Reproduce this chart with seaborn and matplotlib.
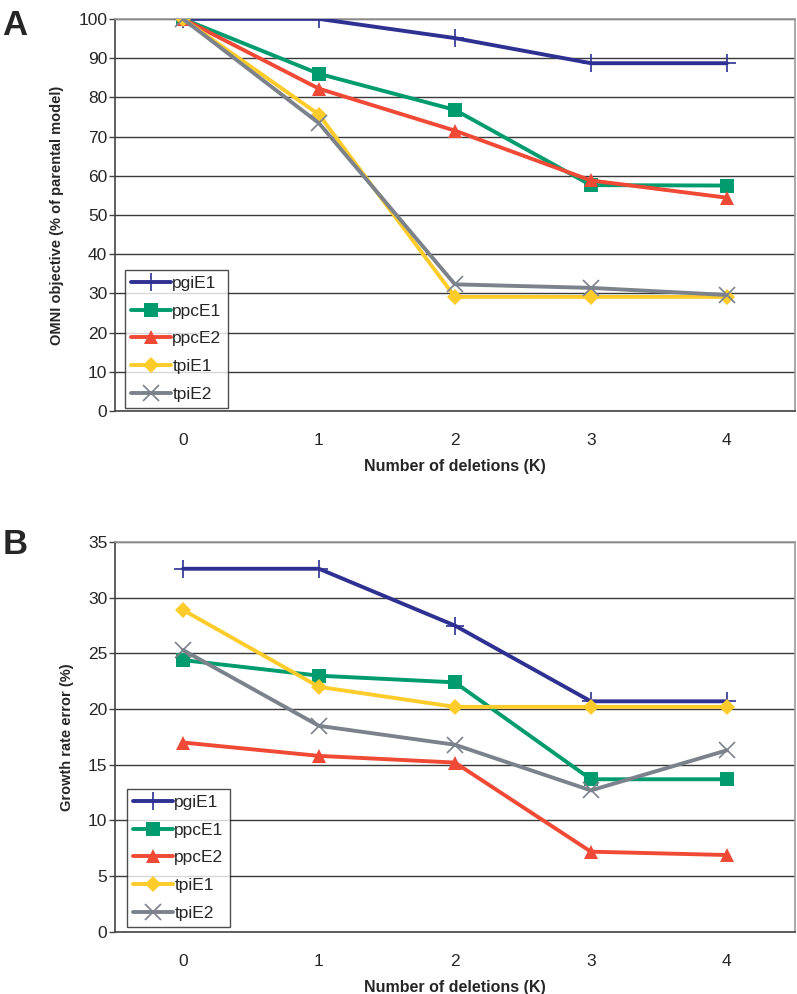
import numpy as np
import pandas as pd
import matplotlib
matplotlib.use('Agg')
import matplotlib.pyplot as plt
import seaborn as sns

# data
deletions = [0, 1, 2, 3, 4]
series_names = ['pgiE1', 'ppcE1', 'ppcE2', 'tpiE1', 'tpiE2']

# panel A: OMNI objective (% of parental model)
omni_pgiE1 = [100, 100, 95.1, 88.7, 88.7]
omni_ppcE1 = [100, 86.0, 76.8, 57.6, 57.5]
omni_ppcE2 = [100, 82.2, 71.5, 58.8, 54.4]
omni_tpiE1 = [100, 75.6, 29.1, 29.1, 29.1]
omni_tpiE2 = [100, 73.4, 32.3, 31.4, 29.6]

# panel B: growth rate error (%)
err_pgiE1 = [32.6, 32.6, 27.5, 20.7, 20.7]
err_ppcE1 = [24.4, 23.0, 22.4, 13.7, 13.7]
err_ppcE2 = [17.0, 15.8, 15.2, 7.2, 6.9]
err_tpiE1 = [28.9, 22.0, 20.2, 20.2, 20.2]
err_tpiE2 = [25.3, 18.5, 16.8, 12.7, 16.3]

colors = {'pgiE1': '#2e3192', 'ppcE1': '#009b6e', 'ppcE2': '#f04a36',
          'tpiE1': '#fdcb2a', 'tpiE2': '#7c828c'}
markers = {'pgiE1': '+', 'ppcE1': 's', 'ppcE2': '^', 'tpiE1': 'D', 'tpiE2': 'x'}
msizes = {'pgiE1': 13, 'ppcE1': 9.5, 'ppcE2': 10.5, 'tpiE1': 8, 'tpiE2': 11}

df_a = pd.DataFrame({'K': deletions * 5,
                     'value': omni_pgiE1 + omni_ppcE1 + omni_ppcE2 + omni_tpiE1 + omni_tpiE2,
                     'series': np.repeat(series_names, 5)})
df_b = pd.DataFrame({'K': deletions * 5,
                     'value': err_pgiE1 + err_ppcE1 + err_ppcE2 + err_tpiE1 + err_tpiE2,
                     'series': np.repeat(series_names, 5)})

sns.set_style('white')
plt.rcParams['font.family'] = ['Liberation Sans', 'DejaVu Sans']

fig = plt.figure(figsize=(7.97, 9.94), dpi=100)
ax_a = fig.add_axes([0.1443, 0.5865, 0.853, 0.3945])
ax_b = fig.add_axes([0.1443, 0.0625, 0.853, 0.3922])


def draw_panel(ax, df, ymax, ystep, ylabel, legend_loc):
    for name in series_names:
        sub = df[df['series'] == name]
        sns.lineplot(data=sub, x='K', y='value', ax=ax, color=colors[name],
                     marker=markers[name], markersize=msizes[name],
                     markeredgewidth=1.2 if markers[name] in '+x' else 0,
                     markeredgecolor=colors[name],
                     linewidth=2.8, label=name, zorder=3)
    ax.set_xlim(-0.5, 4.5)
    ax.set_ylim(0, ymax)
    ax.set_yticks(np.arange(0, ymax + 0.1, ystep))
    ax.yaxis.grid(True, color='#3a3a3a', linewidth=1.0)
    ax.set_axisbelow(True)
    ax.set_xticks(deletions)
    ax.set_xticks(np.arange(-0.5, 4.6, 1), minor=True)
    ax.tick_params(axis='x', which='major', length=0, pad=16, labelsize=12.5)
    ax.tick_params(axis='x', which='minor', length=5, direction='out', color='#444444', width=1)
    ax.tick_params(axis='y', length=4, direction='out', color='#444444', width=1,
                   labelsize=12.5, left=True, pad=1.5)
    for side in ['left', 'bottom']:
        ax.spines[side].set_color('#444444')
        ax.spines[side].set_linewidth(1.2)
    for side in ['top', 'right']:
        ax.spines[side].set_color('#9a9a9a')
        ax.spines[side].set_linewidth(1.2)
    ax.set_xlabel('Number of deletions (K)', fontsize=11.5, fontweight='bold', labelpad=8)
    ax.set_ylabel(ylabel, fontsize=10.5, fontweight='bold', labelpad=10)
    leg = ax.legend(loc='lower left', bbox_to_anchor=legend_loc, fontsize=12.5,
                    frameon=True, fancybox=False, borderpad=0.35, handlelength=2.3,
                    handletextpad=0.1, labelspacing=0.72, borderaxespad=0)
    leg.get_frame().set_edgecolor('#222222')
    leg.get_frame().set_linewidth(1.0)


draw_panel(ax_a, df_a, 100, 10, 'OMNI objective (% of parental model)', (0.014, 0.008))
draw_panel(ax_b, df_b, 35, 5, 'Growth rate error (%)', (0.017, 0.013))

fig.text(0.003, 0.974, 'A', fontsize=25, fontweight='bold', va='center')
fig.text(0.003, 0.452, 'B', fontsize=25, fontweight='bold', va='center')

fig.savefig('out.png', dpi=100)
